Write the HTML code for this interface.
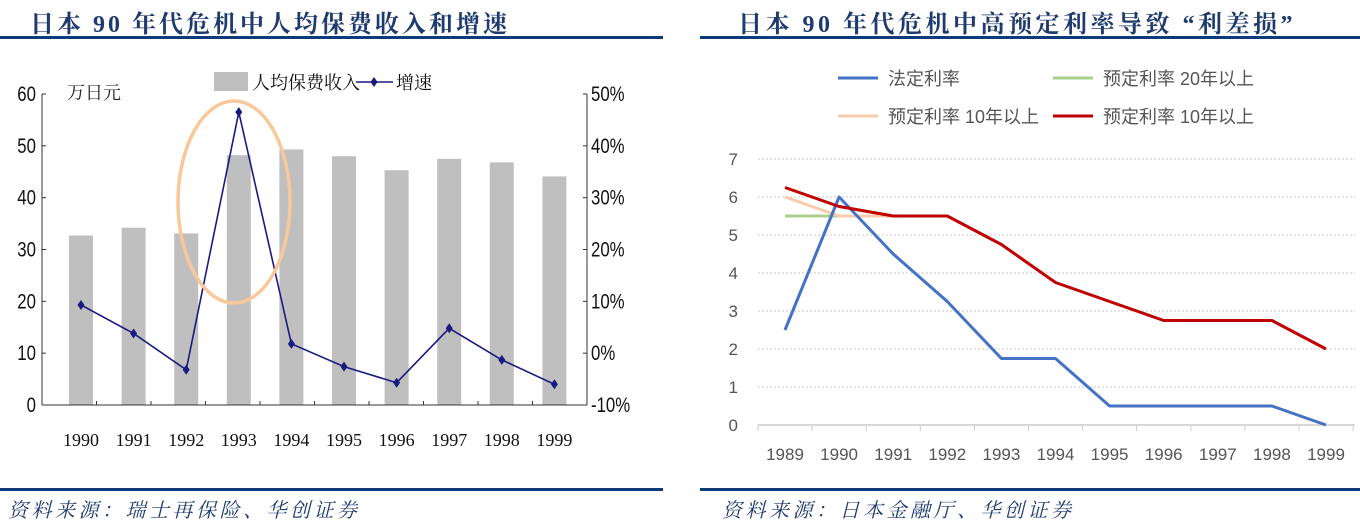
<!DOCTYPE html>
<html><head><meta charset="utf-8"><style>
body{margin:0;width:1360px;height:522px;background:#fff;overflow:hidden;font-family:"Liberation Serif","Noto Serif CJK SC",serif;}
.t{position:absolute;top:4px;font-size:24px;font-weight:bold;color:#1f3a6e;letter-spacing:3px;white-space:nowrap}
.rule{position:absolute;height:3px;background:#0d3a7a}
.src{position:absolute;top:494px;font-size:20px;font-style:italic;color:#1f3a6e;letter-spacing:3.5px;white-space:nowrap}
svg{position:absolute;left:0;top:0}
</style></head><body>
<div class="t" style="left:30px">日本 90 年代危机中人均保费收入和增速</div>
<div class="t" style="left:738px;letter-spacing:3.5px">日本 90 年代危机中高预定利率导致 “利差损”</div>
<div class="rule" style="left:0;width:663px;top:36px"></div>
<div class="rule" style="left:700px;width:660px;top:36px"></div>
<div class="rule" style="left:0;width:663px;top:488px"></div>
<div class="rule" style="left:700px;width:660px;top:488px"></div>
<div class="src" style="left:8px">资料来源：瑞士再保险、华创证券</div>
<div class="src" style="left:722px">资料来源：日本金融厅、华创证券</div>
<svg id="c" width="1360" height="522"></svg>
<script>
const years1=["1990","1991","1992","1993","1994","1995","1996","1997","1998","1999"];
const premium=[32.7,34.2,33.1,48.2,49.3,48.0,45.3,47.5,46.8,44.1];
const growth=[9.3,3.8,-3.2,46.5,1.8,-2.6,-5.7,4.8,-1.3,-6.0];
const leftTicks=[0,10,20,30,40,50,60];
const rightTicks=["-10%","0%","10%","20%","30%","40%","50%"];
const years2=["1989","1990","1991","1992","1993","1994","1995","1996","1997","1998","1999"];
const legalRate=[2.5,6.0,4.5,3.25,1.75,1.75,0.5,0.5,0.5,0.5,0];
const rate10a=[6.25,5.75,5.5,5.5,4.75,3.75,3.25,2.75,2.75,2.75,2.0];
const rate10b=[6.0,5.5,5.5];
const rate20=[5.5,5.5];
const yTicks2=[0,1,2,3,4,5,6,7];

const NS="http://www.w3.org/2000/svg",svg=document.getElementById('c');
function mk(t,a,txt){const e=document.createElementNS(NS,t);for(const k in a)e.setAttribute(k,a[k]);if(txt!==undefined)e.textContent=txt;svg.appendChild(e);return e;}
const L={x0:42,x1:587,yT:94,yB:405};
const ly=v=>L.yB-(v/60)*(L.yB-L.yT);
const ry=v=>L.yB-((v+10)/60)*(L.yB-L.yT);
const lx=i=>81+i*52.6;
premium.forEach((v,i)=>{const r=mk('rect',{x:lx(i)-12,y:ly(v),width:24,height:L.yB-ly(v),fill:'#bfbfbf'});

});
mk('line',{x1:L.x0,y1:L.yT,x2:L.x0,y2:L.yB,stroke:'#333'});
mk('line',{x1:L.x1,y1:L.yT,x2:L.x1,y2:L.yB,stroke:'#333'});
mk('line',{x1:L.x0,y1:L.yB,x2:L.x1,y2:L.yB,stroke:'#333'});
leftTicks.forEach(v=>{mk('line',{x1:L.x0,y1:ly(v),x2:L.x0+4,y2:ly(v),stroke:'#333'});
const t=mk('text',{x:(L.x0-6)/0.8,y:ly(v)+7,'text-anchor':'end','font-size':21,transform:'scale(0.8,1)','font-family':'Liberation Sans, sans-serif',fill:'#111'},v);

});
rightTicks.forEach((s,i)=>{const y=ry(-10+i*10);mk('line',{x1:L.x1-4,y1:y,x2:L.x1,y2:y,stroke:'#333'});
const t=mk('text',{x:(L.x1+4)/0.8,y:y+7,'font-size':21,transform:'scale(0.8,1)','font-family':'Liberation Sans, sans-serif',fill:'#111'},s);

});
for(let i=0;i<=10;i++){const x=L.x0+i*54.5;mk('line',{x1:x,y1:L.yB-4,x2:x,y2:L.yB,stroke:'#333'});}
years1.forEach((s,i)=>{const t=mk('text',{x:lx(i),y:446,'text-anchor':'middle','font-size':18,fill:'#111'},s);

});
const gl=mk('polyline',{points:growth.map((v,i)=>lx(i)+','+ry(v)).join(' '),fill:'none',stroke:'#1a1a80','stroke-width':1.6});


growth.forEach((v,i)=>{const x=lx(i),y=ry(v);mk('polygon',{points:`${x},${y-5} ${x+3.5},${y} ${x},${y+5} ${x-3.5},${y}`,fill:'#1a1a80'});});
mk('ellipse',{cx:234,cy:202,rx:56,ry:101,fill:'none',stroke:'#f8c89a','stroke-width':3.5});
mk('text',{x:67,y:99,'font-size':18,fill:'#222'},'万日元');
mk('rect',{x:214,y:72,width:34,height:19,fill:'#bfbfbf'});
mk('text',{x:252,y:89,'font-size':18,fill:'#111'},'人均保费收入');
mk('line',{x1:356,y1:82,x2:393,y2:82,stroke:'#1a1a80','stroke-width':1.6});
mk('polygon',{points:'374,77 377.5,82 374,87 370.5,82',fill:'#1a1a80'});
mk('text',{x:396,y:89,'font-size':18,fill:'#111'},'增速');
const R={x0:758,x1:1355,yT:159,yB:425};
const y2=v=>R.yB-(v/7)*(R.yB-R.yT);
const x2=i=>785+i*54.1;
yTicks2.forEach(v=>{if(v>0)mk('line',{x1:R.x0,y1:y2(v),x2:R.x1,y2:y2(v),stroke:'#c8c8c8','stroke-dasharray':'2,2'});
const t=mk('text',{x:738,y:y2(v)+6,'text-anchor':'end','font-size':17,'font-family':'Liberation Sans, sans-serif',fill:'#555'},v);

});
mk('line',{x1:R.x0,y1:R.yB,x2:R.x1,y2:R.yB,stroke:'#ccc','stroke-width':1.5});
for(let i=0;i<=11;i++){const x=R.x0+i*54.1;mk('line',{x1:x,y1:R.yB,x2:x,y2:R.yB+6,stroke:'#ccc'});}
years2.forEach((s,i)=>{const t=mk('text',{x:x2(i),y:460,'text-anchor':'middle','font-size':17,'font-family':'Liberation Sans, sans-serif',fill:'#555'},s);

});
function line(arr,col,name){const p=mk('polyline',{points:arr.map((v,i)=>x2(i)+','+y2(v)).join(' '),fill:'none',stroke:col,'stroke-width':3,'stroke-linejoin':'round'});

}
line(rate20,'#a9d18e','rate-20y-line');
line(rate10b,'#f8cbad','rate-10y-line-a');
line(legalRate,'#4472c4','legal-rate-line');
line(rate10a,'#c00000','rate-10y-line-b');
const lg=[[838,78,'#4472c4','法定利率'],[1053,78,'#a9d18e','预定利率 20年以上'],[838,116,'#f8cbad','预定利率 10年以上'],[1053,116,'#c00000','预定利率 10年以上']];
lg.forEach(e=>{mk('line',{x1:e[0],y1:e[1],x2:e[0]+40,y2:e[1],stroke:e[2],'stroke-width':3});
const t=mk('text',{x:e[0]+50,y:e[1]+7,'font-size':18,'font-family':'Liberation Sans, Noto Sans CJK SC, sans-serif',fill:'#555'},e[3]);

});
</script>
</body></html>
